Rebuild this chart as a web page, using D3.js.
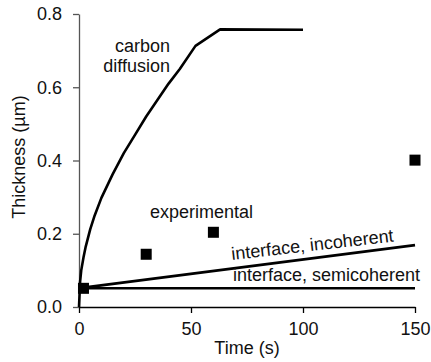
<!DOCTYPE html>
<html><head><meta charset="utf-8">
<script src="https://cdn.jsdelivr.net/npm/d3@7"></script>
<style>
html,body{margin:0;padding:0;background:#fff;}
text{font-family:"Liberation Sans",Arial,sans-serif;fill:#111;}
</style></head>
<body>
<svg id="c" width="431" height="362"></svg>
<script>
// ---- data ----
const diffusionTime  = [0, 0.5, 1, 2, 3, 5, 7, 10, 15, 20, 25, 30, 35, 40, 45, 52, 63, 100];
const diffusionValue = [0, 0.07, 0.10, 0.135, 0.165, 0.212, 0.25, 0.298, 0.362, 0.42, 0.47, 0.52, 0.565, 0.61, 0.65, 0.713, 0.758, 0.757];
const incoherentTime  = [2, 150];
const incoherentValue = [0.053, 0.169];
const semicoherentTime  = [2, 150];
const semicoherentValue = [0.051, 0.051];
const expTime  = [2, 30, 60, 150];
const expValue = [0.051, 0.144, 0.204, 0.401];
const xTicks = [0, 50, 100, 150];
const yTicks = [0, 0.2, 0.4, 0.6, 0.8];

const svg = d3.select("#c");
const x = d3.scaleLinear().domain([0,150]).range([79,415]);
const y = d3.scaleLinear().domain([0,0.8]).range([307,14]);

// axes
const yAxis = svg.append("g").attr("transform","translate(79,0)")
  .call(d3.axisLeft(y).tickValues(yTicks).tickFormat(d3.format(".1f")).tickSize(6).tickSizeOuter(0).tickPadding(11));
yAxis.select(".domain").attr("stroke","#555").attr("stroke-width",1.3);
yAxis.selectAll(".tick line").attr("stroke","#555").attr("stroke-width",1.3);
yAxis.selectAll("text").attr("font-size",18).attr("font-family","Liberation Sans, Arial, sans-serif").attr("fill","#111");

const xAxis = svg.append("g").attr("transform","translate(0,307)")
  .call(d3.axisBottom(x).tickValues(xTicks).tickFormat(d3.format("d")).tickSize(6).tickSizeOuter(0).tickPadding(9));
xAxis.select(".domain").attr("stroke","#000").attr("stroke-width",1.3);
xAxis.selectAll(".tick line").attr("stroke","#000").attr("stroke-width",1.3);
xAxis.selectAll("text").attr("font-size",18).attr("font-family","Liberation Sans, Arial, sans-serif").attr("fill","#111");

// axis titles
svg.append("text").attr("x",247).attr("y",354).attr("text-anchor","middle").attr("font-size",18).text("Time (s)");
svg.append("text").attr("transform","translate(25,157) rotate(-90)").attr("text-anchor","middle").attr("font-size",18).text("Thickness (µm)");

// lines
const line = d3.line().x(d=>x(d[0])).y(d=>y(d[1]));
function drawLine(ts, vs){
  svg.append("path").datum(ts.map((t,i)=>[t,vs[i]]))
    .attr("d",line).attr("fill","none").attr("stroke","#000").attr("stroke-width",2.6).attr("stroke-linejoin","round");
}
drawLine(semicoherentTime, semicoherentValue);
drawLine(incoherentTime, incoherentValue);
drawLine(diffusionTime, diffusionValue);

// experimental squares
const s = 11;
svg.selectAll("rect.exp").data(expTime.map((t,i)=>[t,expValue[i]])).enter().append("rect")
  .attr("class","exp").attr("x",d=>x(d[0])-s/2).attr("y",d=>y(d[1])-s/2)
  .attr("width",s).attr("height",s).attr("fill","#000");

// annotations
svg.append("text").attr("x",170).attr("y",51.5).attr("text-anchor","end").attr("font-size",18).text("carbon");
svg.append("text").attr("x",170).attr("y",72).attr("text-anchor","end").attr("font-size",18).text("diffusion");
svg.append("text").attr("x",150).attr("y",218).attr("font-size",18).text("experimental");
svg.append("text").attr("transform","translate(232,260) rotate(-6.5)").attr("font-size",18).text("interface, incoherent");
svg.append("text").attr("x",233).attr("y",281).attr("font-size",18).text("interface, semicoherent");
</script>
</body></html>
